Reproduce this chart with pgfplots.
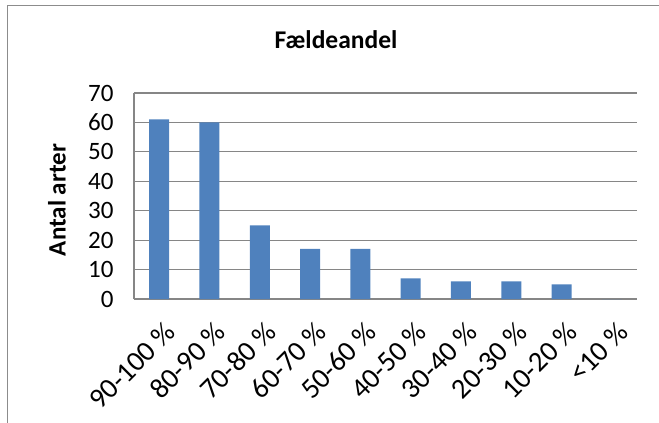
\documentclass[border=0pt]{standalone}
\usepackage{fontspec}
\setmainfont{Carlito}
\usepackage{pgfplots}
\pgfplotsset{compat=1.18}
\definecolor{barblue}{RGB}{79,129,189}
\definecolor{gridgray}{RGB}{134,134,134}
\definecolor{framegray}{RGB}{140,140,140}
\begin{document}
\begin{tikzpicture}
% image px (x,y) -> (x-134, 299-y) pt
\useasboundingbox (-134pt,-124pt) rectangle (525pt,299pt);
\draw[framegray,line width=1pt] (-126pt,-124pt) -- (-126pt,293pt) -- (525pt,293pt);
\begin{axis}[
  at={(0pt,0pt)},anchor=south west,
  scale only axis,width=503pt,height=206pt,
  xmin=-0.5,xmax=9.5,ymin=0,ymax=70,
  ytick={0,10,...,70},
  xtick={0,...,9},
  xticklabels={90-100 \%,80-90 \%,70-80 \%,60-70 \%,50-60 \%,40-50 \%,30-40 \%,20-30 \%,10-20 \%,<10 \%},
  axis x line*=bottom,axis y line*=left,
  axis line style={gridgray,line width=1.6pt,-},
  ymajorgrids,major grid style={gridgray,line width=1.2pt},
  major tick length=0pt,
  /pgf/number format/assume math mode=true,
  tick label style={font=\fontsize{25}{28}\selectfont,black},
  yticklabel style={xshift=-17pt},
  xticklabel style={rotate=45,anchor=east,xshift=-9pt,yshift=-28pt,font=\fontsize{28.5}{32}\selectfont},
  ylabel={Antal arter},
  y label style={at={(axis description cs:-0.153,0.48)},anchor=center,font=\fontsize{25}{28}\selectfont\bfseries},
  title={Fældeandel},
  title style={at={(axis description cs:0.4016,1.228)},anchor=center,font=\fontsize{25.5}{29}\selectfont\bfseries},
  ybar,bar width=20pt,
]
\addplot[fill=barblue,draw=none] coordinates {
  (0,61) (1,60) (2,25) (3,17) (4,17) (5,7) (6,6) (7,6) (8,5) (9,0)};
\end{axis}
\end{tikzpicture}
\end{document}
